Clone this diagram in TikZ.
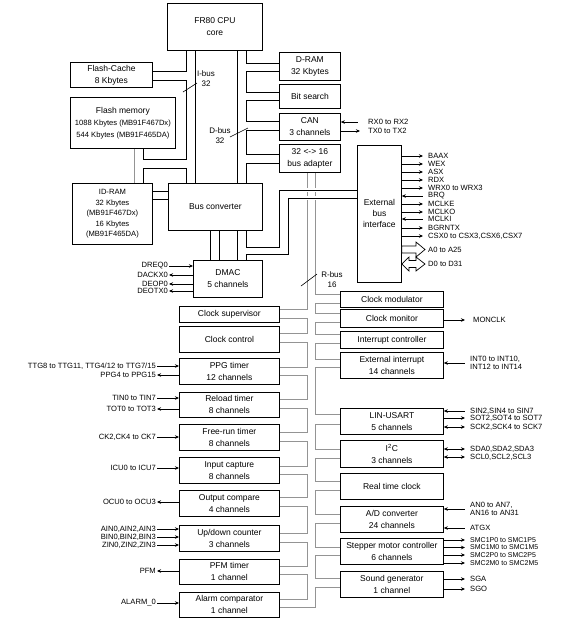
\documentclass[tikz,border=0pt]{standalone}
\usepackage{fontspec}
\setmainfont{Liberation Sans}
\usetikzlibrary{arrows.meta,calc}
\newcommand\mybox[6]{\node[box,minimum width={(#4)-(#2)},minimum height={(#5)-(#3)}] (#1) at (#2,#3) {#6};}
\begin{document}
\begin{tikzpicture}[x=1pt,y=-1pt,
  box/.style={draw,line width=0.8pt,inner sep=0pt,align=center,anchor=north west,font=\fontsize{8.5}{12}\selectfont},
  small/.style={font=\fontsize{7.6}{10.5}\selectfont},
  ln/.style={line width=0.8pt},
  rb/.style={line width=1pt,draw=black!42},
  sig/.style={line width=0.7pt,-{Stealth[length=4pt,width=3.5pt]}},
  sigi/.style={line width=0.7pt,{Stealth[length=4pt,width=3.5pt]}-},
  sigb/.style={line width=0.7pt,{Stealth[length=4pt,width=3.5pt]}-{Stealth[length=4pt,width=3.5pt]}},
  lbl/.style={font=\fontsize{7.6}{8.5}\selectfont,inner sep=1pt},
  tiny/.style={font=\fontsize{7}{7.5}\selectfont,inner ysep=0pt,inner xsep=1pt},
  buslbl/.style={font=\fontsize{8}{10}\selectfont,inner sep=0pt,align=center}]
\useasboundingbox (0,0) rectangle (578,622);
% ---------- upper blocks
\mybox{cpu}{167}{3}{262}{50}{FR80 CPU\\core}
\mybox{fcache}{70}{62}{152}{87}{Flash-Cache\\8 Kbytes}
\mybox{fmem}{70}{97}{175}{148}{Flash memory\\{\fontsize{7.6}{10.5}\selectfont 1088 Kbytes (MB91F467Dx)}\\{\fontsize{7.6}{10.5}\selectfont 544 Kbytes (MB91F465DA)}}
\node[box,small,minimum width=80,minimum height=61] (idram) at (72,183) {ID-RAM\\32 Kbytes\\(MB91F467Dx)\\16 Kbytes\\(MB91F465DA)};
\mybox{busconv}{168}{183}{262}{230}{Bus converter}
\mybox{dram}{279}{52}{340}{80}{D-RAM\\32 Kbytes}
\mybox{bitsearch}{279}{84}{340}{108}{Bit search}
\mybox{can}{279}{113}{340}{140}{CAN\\3 channels}
\mybox{busadapt}{279}{144}{340}{172}{32 <-> 16\\bus adapter}
\node[box,minimum width=44,minimum height=137,font=\fontsize{8.5}{11}\selectfont] (ebi) at (357,145) {External\\bus\\interface};
\mybox{dmac}{193}{260}{262}{297}{DMAC\\5 channels}
% ---------- left peripherals
\mybox{csup}{179}{306}{279}{322}{Clock supervisor}
\mybox{cctrl}{179}{326}{279}{352}{Clock control}
\mybox{ppg}{179}{358}{279}{384}{PPG timer\\12 channels}
\mybox{reload}{179}{392}{279}{417}{Reload timer\\8 channels}
\mybox{freerun}{179}{424}{279}{450}{Free-run timer\\8 channels}
\mybox{icap}{179}{457}{279}{483}{Input capture\\8 channels}
\mybox{ocomp}{179}{490}{279}{516}{Output compare\\4 channels}
\mybox{updown}{179}{525}{279}{551}{Up/down counter\\3 channels}
\mybox{pfm}{179}{559}{279}{584}{PFM timer\\1 channel}
\mybox{alarm}{179}{592}{279}{617}{Alarm comparator\\1 channel}
% ---------- right peripherals
\mybox{cmod}{340}{291}{443}{307}{Clock modulator}
\mybox{cmon}{340}{309}{443}{327}{Clock monitor}
\mybox{intc}{340}{331}{443}{348}{Interrupt controller}
\mybox{extint}{340}{352}{443}{378}{External interrupt\\14 channels}
\mybox{lin}{340}{408}{443}{434}{LIN-USART\\5 channels}
\mybox{i2c}{340}{440}{443}{467}{I\textsuperscript{2}C\\3 channels}
\mybox{rtc}{340}{473}{443}{499}{Real time clock}
\mybox{adc}{340}{506}{443}{532}{A/D converter\\24 channels}
\mybox{stepper}{340}{538}{443}{564}{Stepper motor controller\\6 channels}
\mybox{sound}{340}{571}{443}{597}{Sound generator\\1 channel}
% ---------- R-bus (grey)
\draw[rb] (307,0 |- busadapt.south) -- (307,309) -- (csup.east |- 0,309);
\draw[rb] (315,0 |- busadapt.south) -- (315,294) -- (cmod.west |- 0,294);
\foreach \a/\ya/\b/\yb in {csup/318/cctrl/333,cctrl/342/ppg/367,ppg/375/reload/399,reload/408/freerun/432,freerun/441/icap/466,icap/474/ocomp/497,ocomp/506/updown/533,updown/542/pfm/566,pfm/574/alarm/599}
  \draw[rb] (\a.east |- 0,\ya) -- (307,\ya) -- (307,\yb) -- (\b.east |- 0,\yb);
\foreach \a/\ya/\b/\yb in {cmod/303/cmon/313,cmon/322/intc/334,intc/343/extint/359,extint/367/lin/414,lin/424/i2c/449,i2c/458/rtc/481,rtc/490/adc/514,adc/523/stepper/547,stepper/555/sound/578}
  \draw[rb] (\a.west |- 0,\ya) -- (315,\ya) -- (315,\yb) -- (\b.west |- 0,\yb);
\draw[rb] (alarm.east |- 0,607) -- (315,607) -- (315,587) -- (sound.west |- 0,587);
\draw[white,line width=3.5pt] (302,190) -- (320,190) (302,198) -- (320,198);
% ---------- I-bus
\draw[ln] (186,0 |- cpu.south) -- (186,71) -- (fcache.east |- 0,71);
\draw[ln] (fcache.east |- 0,80) -- (186,80) -- (186,159) -- (143,159) -- (143,0 |- fmem.south);
\draw[ln] (195,0 |- cpu.south) -- (195,0 |- busconv.north);
\draw[ln] (143,0 |- idram.north) -- (143,168) -- (186,168) -- (186,0 |- busconv.north);
\draw[rb] (134,0 |- fmem.south) -- (134,0 |- idram.north);
\draw[ln] (idram.east |- 0,191) -- (busconv.west |- 0,191);
\draw[ln] (idram.east |- 0,199) -- (busconv.west |- 0,199);
% ---------- D-bus
\draw[ln] (237,0 |- cpu.south) -- (237,0 |- busconv.north);
\draw[ln] (246,0 |- cpu.south) -- (246,63) -- (dram.west |- 0,63);
\draw[ln] (dram.west |- 0,71) -- (246,71) -- (246,92) -- (bitsearch.west |- 0,92);
\draw[ln] (bitsearch.west |- 0,100) -- (246,100) -- (246,121) -- (can.west |- 0,121);
\draw[ln] (can.west |- 0,130) -- (246,130) -- (246,154) -- (busadapt.west |- 0,154);
\draw[ln] (busadapt.west |- 0,163) -- (246,163) -- (246,0 |- busconv.north);
% ---------- bus converter to DMAC / EBI
\foreach \x in {210,219,237}
  \draw[ln] (\x,0 |- busconv.south) -- (\x,0 |- dmac.north);
\draw[ln] (246,0 |- busconv.south) -- (246,247) -- (279,247) -- (279,190) -- (ebi.west |- 0,190);
\draw[ln] (246,0 |- dmac.north) -- (246,254) -- (288,254) -- (288,198) -- (ebi.west |- 0,198);
% ---------- bus marks
\draw[line width=0.6pt] (183,92) -- (197,83);
\draw[line width=0.6pt] (230,137) -- (248,128);
\draw[line width=0.6pt] (301,286) -- (317,274);
\node[buslbl] (ibus) at (206,78.5) {I-bus\\32};
\node[buslbl] (dbus) at (220,136) {D-bus\\32};
\node[buslbl] (rbus) at (332,280) {R-bus\\16};
% ---------- CAN signals
\node[lbl,anchor=west] (rx) at (367,122) {RX0 to RX2};
\node[lbl,anchor=west] (tx) at (367,131) {TX0 to TX2};
\draw[sigi] (can.east |- rx.west) -- ([xshift=-9pt]rx.west);
\draw[sig] (can.east |- tx.west) -- ([xshift=-7pt]tx.west);
% ---------- EBI signals
\foreach \n/\y/\t/\s in {baax/156/BAAX/sig,wex/164/WEX/sig,asx/172/ASX/sig,rdx/180/RDX/sig,wrx/188/WRX0 to WRX3/sig,brq/196/BRQ/sigi,mclke/204/MCLKE/sig,mclko/212/MCLKO/sig,mclki/219/MCLKI/sigi,bgrntx/228/BGRNTX/sig,csx/236/{CSX0 to CSX3,CSX6,CSX7}/sig}
{ \node[lbl,anchor=west] (\n) at (427,\y) {\t};
  \draw[\s] (ebi.east |- \n.west) -- ([xshift=-4pt]\n.west); }
\node[lbl,anchor=west] (addr) at (427,249.5) {A0 to A25};
\node[lbl,anchor=west] (data) at (427,264) {D0 to D31};
\draw[line width=0.7pt,fill=white] (ebi.east |- 0,246) -- (416,246) -- (416,242) -- ([xshift=-2pt]addr.west) -- (416,257) -- (416,253) -- (ebi.east |- 0,253) -- cycle;
\draw[line width=0.7pt,fill=white] (ebi.east |- data.west) -- (409,257) -- (409,260.5) -- (416,260.5) -- (416,257) -- ([xshift=-2pt]data.west) -- (416,271) -- (416,267.5) -- (409,267.5) -- (409,271) -- cycle;
% ---------- DMAC signals
\foreach \n/\y/\t/\s in {dreq/266/DREQ0/sig,dack/275/DACKX0/sigi,deop/284/DEOP0/sigi,deotx/291/DEOTX0/sigi}
{ \node[lbl,anchor=east] (\n) at (169,\y) {\t};
  \draw[\s] (\n.east) -- (dmac.west |- \n.east); }
% ---------- left peripheral signals
\foreach \n/\y/\t/\s/\b in {ttg/366/{TTG8 to TTG11, TTG4/12 to TTG7/15}/sig/ppg,ppgo/375/PPG4 to PPG15/sigi/ppg,tin/398/TIN0 to TIN7/sig/reload,tot/409/TOT0 to TOT3/sigi/reload,ck/437/{CK2,CK4 to CK7}/sig/freerun,icu/468/ICU0 to ICU7/sig/icap,ocu/502/OCU0 to OCU3/sigi/ocomp,ain/529/{AIN0,AIN2,AIN3}/sig/updown,bin/537/{BIN0,BIN2,BIN3}/sig/updown,zin/545/{ZIN0,ZIN2,ZIN3}/sig/updown,pfmo/571/PFM/sigi/pfm,alm/603/ALARM\_0/sig/alarm}
{ \node[lbl,anchor=east] (\n) at (157,\y) {\t};
  \draw[\s] (\n.east) -- (\b.west |- \n.east); }
% ---------- right peripheral signals
\node[lbl,anchor=west] (monclk) at (472,320) {MONCLK};
\draw[sig] (cmon.east |- monclk.west) -- ([xshift=-7pt]monclk.west);
\node[lbl,anchor=west,align=left] (intl) at (469,363) {INT0 to INT10,\\INT12 to INT14};
\draw[sigi] (extint.east |- intl.west) -- ([xshift=-4pt]intl.west);
\foreach \n/\y/\t/\s/\b in {sin/411/{SIN2,SIN4 to SIN7}/sigi/lin,sot/418/{SOT2,SOT4 to SOT7}/sig/lin,sck/427/{SCK2,SCK4 to SCK7}/sigb/lin,sda/449/{SDA0,SDA2,SDA3}/sigb/i2c,scl/457/{SCL0,SCL2,SCL3}/sigb/i2c,atgx/528/ATGX/sigi/adc,sga/579/SGA/sig/sound,sgo/589/SGO/sig/sound}
{ \node[lbl,anchor=west] (\n) at (469,\y) {\t};
  \draw[\s] (\b.east |- \n.west) -- ([xshift=-4pt]\n.west); }
\foreach \n/\y/\t in {smca/540/SMC1P0 to SMC1P5,smcb/547.5/SMC1M0 to SMC1M5,smcc/555/SMC2P0 to SMC2P5,smcd/563/SMC2M0 to SMC2M5}
{ \node[tiny,anchor=west] (\n) at (469,\y) {\t};
  \draw[sig] (stepper.east |- \n.west) -- ([xshift=-4pt]\n.west); }
\node[lbl,anchor=west,align=left] (anl) at (469,509) {AN0 to AN7,\\AN16 to AN31};
\draw[sigi] (adc.east |- anl.west) -- ([xshift=-4pt]anl.west);
\end{tikzpicture}
\end{document}
